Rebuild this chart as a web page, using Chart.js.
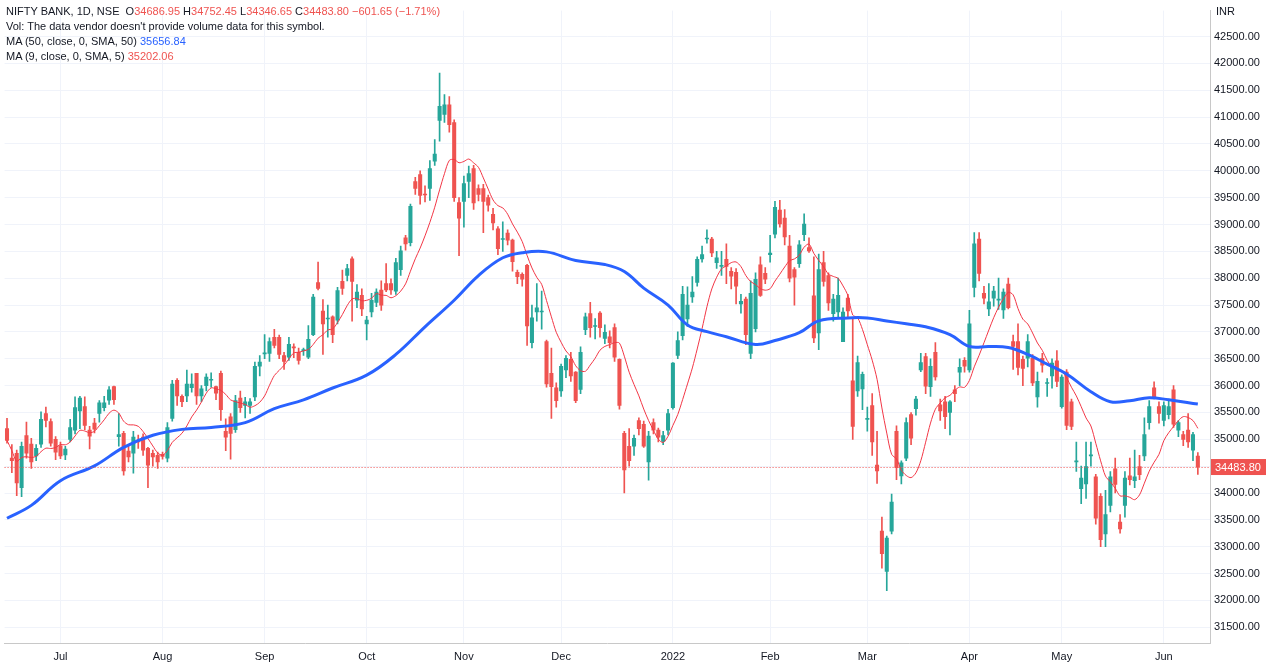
<!DOCTYPE html>
<html>
<head>
<meta charset="utf-8">
<script src="https://cdn.jsdelivr.net/npm/chart.js@4.4.1/dist/chart.umd.min.js"></script>
<style>
  html, body { margin: 0; padding: 0; background: #fff; }
  #wrap { position: relative; width: 1266px; height: 669px; }
  #legend { position: absolute; left: 6px; top: 4px; font: 11px "Liberation Sans", Arial, sans-serif; color: #131722; line-height: 15px; }
  #legend .r { color: #ef5350; }
  #legend .b { color: #2962ff; }
  #inr { position: absolute; left: 1216px; top: 5px; font: 11px "Liberation Sans", Arial, sans-serif; color: #131722; }
</style>
</head>
<body>
<div id="wrap">
  <canvas id="c" width="1266" height="669"></canvas>
  <div id="legend">
    <div>NIFTY BANK, 1D, NSE&nbsp; O<span class="r">34686.95</span> H<span class="r">34752.45</span> L<span class="r">34346.65</span> C<span class="r">34483.80</span> <span class="r">−601.65 (−1.71%)</span></div>
    <div>Vol: The data vendor doesn't provide volume data for this symbol.</div>
    <div>MA (50, close, 0, SMA, 50) <span class="b">35656.84</span></div>
    <div>MA (9, close, 0, SMA, 5) <span class="r">35202.06</span></div>
  </div>
  <div id="inr">INR</div>
</div>
<script>
/* daily candles, NIFTY BANK, mid Jun 2021 - 10 Jun 2022 */
const opens = [35200,34650,34740,34100,35070,34910,34690,34910,35480,35330,35000,34880,34710,35000,35170,35530,35610,35170,35300,35480,
  35590,35730,35980,35050,35110,34780,34740,34960,35040,34830,34740,34700,34720,34650,35390,36100,35800,35810,35960,36230,
  35810,36000,36100,35980,36230,35150,35420,35180,35770,35630,35630,35790,36360,36590,36600,36900,36900,36560,36530,36720,
  36620,36650,36530,36950,37920,37390,37240,37280,37220,37940,38050,38360,37590,37680,37150,37370,37550,37780,37900,37900,
  37760,38160,38750,38660,39800,39930,39560,39670,40180,40940,41050,41230,40900,39410,39430,39800,40040,39670,39670,39500,
  39190,38920,38720,38840,38710,38110,38070,38240,36800,37370,37370,36820,36230,35960,35900,36290,36490,36250,35930,37040,
  37340,37100,37350,36880,36910,37080,36490,35110,34870,34870,35350,35280,34580,35310,35170,34960,35170,35590,36560,36930,
  37240,37650,37920,38360,38730,38730,38290,38220,38350,38130,38110,37520,37610,36600,37060,38250,38090,38440,38820,39270,
  39120,38600,38160,38270,38810,38570,37670,36980,38290,38050,37340,37370,36820,37630,36090,35900,35940,35370,35630,34520,
  33290,32540,33290,35150,34320,34650,35460,35570,36290,36540,35980,36620,35640,35700,35500,35920,36250,36470,36290,37830,
  38730,37720,37430,37630,37590,37410,37890,36820,36820,36490,36510,36510,35790,36510,36040,36180,36460,35610,36250,35700,
  34580,34080,34170,34690,34300,33940,33240,33770,34450,33460,33770,34320,34230,34490,34690,35310,35960,35610,35350,35460,
  35920,35170,35090,35170,34800,34686.95];
const highs = [35390,34900,34800,34950,35320,35020,34900,35510,35600,35380,35050,34950,34870,35370,35790,35800,35790,35240,35390,35720,
  35800,35980,35990,35480,35150,34900,35150,35080,35100,34850,34800,34760,34760,35310,36100,36130,35830,36290,36220,36230,
  36000,36220,36240,35990,36270,35380,35480,35820,35900,35780,35760,36440,36560,36950,36890,37050,36940,36620,36900,36780,
  36700,36700,37120,37700,38300,37600,37500,37300,37830,38150,38260,38400,37880,37800,37290,37720,37800,37950,38270,37990,
  38370,38600,38800,39380,39880,40000,39720,40190,40580,41820,41420,41380,40950,39500,39900,40090,40100,39740,39750,39550,
  39300,38960,39050,38900,38730,38150,38100,38260,37500,37900,37760,36850,36700,36050,36400,36560,36620,36260,36720,37350,
  37550,37250,37380,37130,37020,37150,36500,35150,35200,35080,35400,35340,35150,35380,35210,35150,35560,36430,37000,37850,
  37840,38030,38400,38600,38900,38760,38500,38500,38640,38200,38180,37700,37650,37950,38100,38400,38200,38800,39430,39450,
  39280,38800,38200,38700,39200,38750,38400,38450,38500,38100,37700,38000,37450,37700,37250,36550,36250,35600,35850,35150,
  33550,33200,33980,35250,34600,35400,35500,35800,36600,36600,36500,36800,35750,35800,35720,36000,36500,36520,37400,38850,
  38850,37850,37900,37850,38000,37800,38000,36940,37150,36550,36950,36580,36250,36600,36130,36500,36650,36200,36300,35750,
  34950,34500,34950,34950,34350,33990,34050,34400,34650,33600,34400,34650,34800,34700,35400,35720,36070,35700,35700,35750,
  36000,35350,35150,35480,35130,34752.45];
const lows = [34930,34380,33950,33930,34650,34460,34600,34850,35230,34870,34620,34640,34620,34950,35100,35200,35180,34820,35120,35320,
  35530,35650,35650,34870,34330,34580,34370,34830,34700,34100,34500,34460,34630,34580,35340,35630,35610,35700,35880,35650,
  35700,35900,35970,35740,35350,34790,34630,35130,35500,35400,35480,35720,36180,36500,36450,36700,36500,36300,36470,36520,
  36400,36560,36500,36930,37780,36580,36900,36800,37150,37700,37950,37200,37450,37300,36850,37280,37470,37400,37750,37700,
  37700,38050,38520,38600,39560,39380,39420,39450,40100,40550,40900,40720,39430,38420,38950,39500,39280,39440,38850,39250,
  38900,38440,38500,38620,38130,37900,37850,36750,36700,37200,37050,35970,35390,35600,35800,36150,36080,35680,35850,36950,
  36900,36870,36900,36780,36700,36450,35560,34000,34500,34700,35080,34850,34240,35100,34950,34900,35080,35560,36500,36850,
  37100,37550,37850,38300,38650,38400,38180,38050,37900,37800,37520,37350,36760,36500,37000,37660,37900,38300,38750,38950,
  38620,37930,37500,38200,38700,38480,36800,36670,37850,37400,37200,37250,36820,37280,35000,35800,35550,35150,34700,34180,
  32600,32180,33240,34250,34170,34600,34900,35450,36260,35850,35800,36100,35350,35200,35080,35700,36000,36250,36250,37650,
  37950,37520,37300,37480,37420,37250,37430,36300,36200,36000,36350,36000,35600,36250,35800,35950,35980,35580,35180,35180,
  34400,33800,33900,34500,33420,33000,33000,33650,34000,33250,33550,34150,34100,34250,34600,35190,35750,35300,35250,35380,
  35220,35050,34880,34850,34600,34346.65];
const closes = [34980,34600,34190,34870,34740,34580,34830,35370,35350,34930,34760,34690,34820,35220,35590,35770,35260,35060,35190,35680,
  35680,35920,35740,35090,34410,34670,35040,34950,34800,34520,34670,34580,34680,35220,36030,35810,35700,36030,36030,35810,
  35940,36160,36110,35860,35550,35040,35110,35720,35590,35700,35700,36360,36440,36610,36820,36750,36580,36450,36770,36700,
  36470,36660,36860,37650,37810,37150,37250,36950,37770,37810,38180,37940,37740,37430,37220,37590,37740,37500,37780,37780,
  38290,38510,38640,39340,39670,39540,39550,40040,40310,41200,41230,40860,39500,39120,39760,39950,39400,39560,39430,39360,
  39030,38550,38740,38710,38310,38030,37980,37110,37260,37450,37380,36030,35980,35720,36360,36510,36180,35720,36620,37280,
  37080,37110,37080,36990,36800,36530,35630,34430,34600,35020,35200,34870,35060,35170,35040,35070,35480,36420,36840,37700,
  37500,37740,38350,38440,38740,38470,38380,38230,38220,38040,37850,37570,36950,37720,37980,37680,37980,38470,39320,39010,
  38770,38000,38020,38620,39010,38510,36890,38160,37940,37540,37610,37680,37370,37390,35240,36430,36210,35380,34950,34410,
  32870,33160,33830,34470,34560,35310,35020,35750,36430,35990,36360,36160,35530,35420,35700,35850,36340,36360,37150,38640,
  38090,37630,37560,37760,37610,37740,37450,36730,36340,36320,36820,36050,36080,36380,36050,36420,36080,36160,35260,35240,
  34600,34280,34490,34700,33530,33130,33600,34300,34160,33330,34280,34250,34300,34340,35090,35610,35790,35480,35630,35610,
  35280,35310,35000,34950,35090,34483.80];

/* MA50: candle index -> value */
const ma50Idx = [0,5,11,18,24,30,36,42,49,55,61,67,74,80,86,92,97,102,106,111,117,123,127,131,136,140,144,148,154,158,
  163,167,173,177,181,185,189,194,198,202,206,210,214,218,223,227,231,235,239,245];
const ma50Val = [33530,33770,34230,34505,34850,35075,35185,35220,35310,35570,35735,35955,36195,36580,37095,37590,38050,38380,38475,38490,
  38330,38255,38125,37815,37500,37130,37005,36910,36765,36840,36985,37205,37260,37260,37205,37150,37095,36950,36730,36730,
  36710,36580,36400,36215,35885,35700,35720,35775,35735,35656.84];

const yMin = 31207, yMax = 42983;
const yTicks = [31500,32000,32500,33000,33500,34000,34500,35000,35500,36000,36500,37000,37500,38000,38500,39000,39500,40000,40500,41000,41500,42000,42500];
const lastClose = closes[closes.length - 1];

// trading days, counted back from 10 Jun 2022
const holidays = ["2021-07-21","2021-08-19","2021-09-10","2021-10-15","2021-11-05","2021-11-19",
  "2022-01-26","2022-03-01","2022-03-18","2022-04-14","2022-04-15","2022-05-03"];
const labels = [];
let d = new Date(Date.UTC(2022, 5, 10));
while (labels.length < closes.length) {
  const s = d.toISOString().slice(0, 10);
  const wd = d.getUTCDay();
  if (wd !== 0 && wd !== 6 && !holidays.includes(s)) labels.unshift(s);
  d.setUTCDate(d.getUTCDate() - 1);
}
labels.push("", ""); // empty space to the right of the last candle
const monthNames = ["Jan","Feb","Mar","Apr","May","Jun","Jul","Aug","Sep","Oct","Nov","Dec"];
function tickText(i) {
  if (i === 0 || !labels[i]) return "";
  const m = labels[i].slice(5, 7), pm = labels[i - 1].slice(5, 7);
  if (m === pm) return "";
  if (m === "01") return labels[i].slice(0, 4);
  return monthNames[+m - 1];
}

const UP = "#26a69a", DOWN = "#ef5350";
const col = opens.map((o, i) => closes[i] >= o ? UP : DOWN);

// 9 day simple average of closes
const ma9 = closes.map((c, i) => {
  const s = closes.slice(Math.max(0, i - 8), i + 1);
  return s.reduce((a, b) => a + b, 0) / s.length;
});

const lastPrice = {
  id: "lastPrice",
  afterDatasetsDraw(chart) {
    const { ctx, chartArea, scales } = chart;
    const y = scales.y.getPixelForValue(lastClose);
    ctx.save();
    ctx.strokeStyle = DOWN;
    ctx.lineWidth = 1;
    ctx.setLineDash([1, 2]);
    ctx.beginPath();
    ctx.moveTo(chartArea.left, Math.round(y) + 0.5);
    ctx.lineTo(chartArea.right, Math.round(y) + 0.5);
    ctx.stroke();
    ctx.setLineDash([]);
    ctx.fillStyle = DOWN;
    ctx.fillRect(chartArea.right + 1, y - 8, 56, 16);
    ctx.fillStyle = "#fff";
    ctx.font = "11px 'Liberation Sans', Arial, sans-serif";
    ctx.textBaseline = "middle";
    ctx.fillText(lastClose.toFixed(2), chartArea.right + 5, y + 0.5);
    ctx.restore();
  }
};

new Chart(document.getElementById("c"), {
  type: "bar",
  data: {
    labels: labels,
    datasets: [
      {
        type: "line", data: ma50Idx.map((i, k) => ({ x: labels[i], y: ma50Val[k] })),
        borderColor: "#2962ff", borderWidth: 3, pointRadius: 0, tension: 0.4, order: 0
      },
      {
        type: "line", data: ma9, borderColor: "#f23645", borderWidth: 1, pointRadius: 0, tension: 0.3, order: 1
      },
      {
        data: lows.map((l, i) => [l, highs[i]]), backgroundColor: col,
        barThickness: 1, grouped: false, order: 3
      },
      {
        data: opens.map((o, i) => [o, closes[i]]), backgroundColor: col,
        barThickness: 3.4, minBarLength: 1, grouped: false, order: 2
      }
    ]
  },
  options: {
    responsive: false,
    animation: false,
    layout: { padding: 0 },
    plugins: { legend: { display: false }, tooltip: { enabled: false } },
    scales: {
      x: {
        offset: true,
        afterFit: s => { s.height = 26; },
        grid: { offset: false, drawTicks: false, color: ctx => tickText(ctx.index) ? "#f0f3fa" : "rgba(0,0,0,0)" },
        border: { color: "#c8c8c8" },
        ticks: {
          autoSkip: false, maxRotation: 0, padding: 7, color: "#131722",
          font: { family: "Liberation Sans", size: 11 },
          callback: (v, i) => tickText(i)
        }
      },
      y: {
        position: "right", min: yMin, max: yMax,
        afterFit: s => { s.width = 56; },
        afterBuildTicks: s => { s.ticks = yTicks.map(v => ({ value: v })); },
        grid: { color: "#f0f3fa", drawTicks: false },
        border: { color: "#c8c8c8" },
        ticks: {
          padding: 4, color: "#131722",
          font: { family: "Liberation Sans", size: 11 },
          callback: v => v.toFixed(2)
        }
      }
    }
  },
  plugins: [lastPrice]
});
</script>
</body>
</html>
